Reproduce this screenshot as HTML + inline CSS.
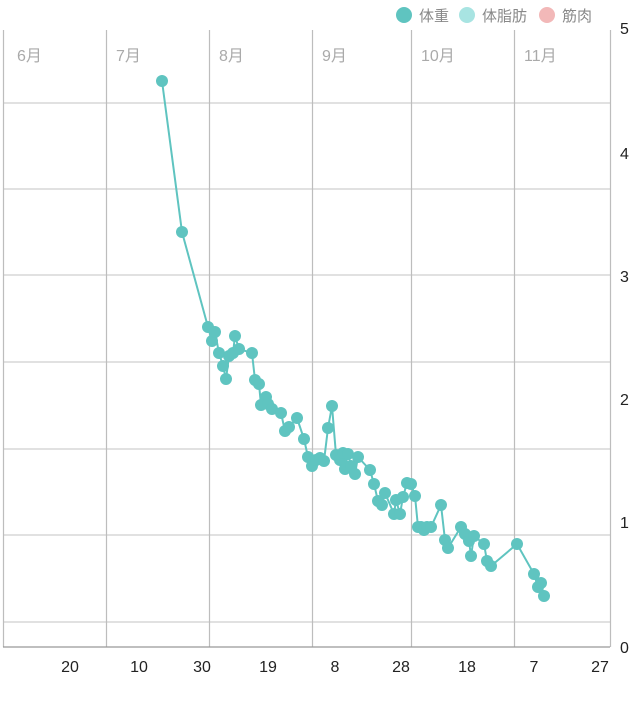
<!DOCTYPE html>
<html><head><meta charset="utf-8"><style>
body{margin:0;background:#fff;}
svg{display:block;font-family:"Liberation Sans","Noto Sans CJK JP",sans-serif;}
circle.p{r:6px;}
</style></head><body>
<svg width="640" height="708" viewBox="0 0 640 708">
<g stroke="#cfcfcf" stroke-width="1.2">
<line x1="3" y1="103" x2="610" y2="103"/><line x1="3" y1="189" x2="610" y2="189"/>
<line x1="3" y1="275" x2="610" y2="275"/><line x1="3" y1="362" x2="610" y2="362"/>
<line x1="3" y1="449" x2="610" y2="449"/><line x1="3" y1="535" x2="610" y2="535"/>
<line x1="3" y1="622" x2="610" y2="622"/>
</g>
<g stroke="#bdbdbd" stroke-width="1.2">
<line x1="3.5" y1="30" x2="3.5" y2="647"/><line x1="106.5" y1="30" x2="106.5" y2="647"/>
<line x1="209.5" y1="30" x2="209.5" y2="647"/><line x1="312.5" y1="30" x2="312.5" y2="647"/>
<line x1="411.5" y1="30" x2="411.5" y2="647"/><line x1="514.5" y1="30" x2="514.5" y2="647"/>
<line x1="610.5" y1="30" x2="610.5" y2="647"/>
</g>
<line x1="3" y1="647" x2="610" y2="647" stroke="#999" stroke-width="1.2"/>
<g fill="#aaa" font-size="16">
<text x="17" y="61">6月</text><text x="116" y="61">7月</text><text x="219" y="61">8月</text>
<text x="322" y="61">9月</text><text x="421" y="61">10月</text><text x="524" y="61">11月</text>
</g>
<g fill="#222" font-size="16">
<text x="620" y="34">5</text><text x="620" y="159">4</text><text x="620" y="282">3</text>
<text x="620" y="405">2</text><text x="620" y="528">1</text><text x="620" y="653">0</text>
</g>
<g fill="#222" font-size="16" text-anchor="middle">
<text x="70" y="672">20</text><text x="139" y="672">10</text><text x="202" y="672">30</text>
<text x="268" y="672">19</text><text x="335" y="672">8</text><text x="401" y="672">28</text>
<text x="467" y="672">18</text><text x="534" y="672">7</text><text x="600" y="672">27</text>
</g>
<g font-size="15" fill="#888">
<circle cx="404" cy="15" r="8" fill="#5fc4c0"/><text x="419" y="21">体重</text>
<circle cx="467" cy="15" r="8" fill="#a8e4e2"/><text x="482" y="21">体脂肪</text>
<circle cx="547" cy="15" r="8" fill="#f2b8b8"/><text x="562" y="21">筋肉</text>
</g>
<polyline fill="none" stroke="#5fc4c0" stroke-width="2" points="162,81 182,232 208,327 212,341 215,332 219,353 223,366 226,379 229,356 233,353 235,336 239,349 252,353 255,380 259,384 261,405 266,397 268,404 272,409 281,413 285,431 289,427 297,418 304,439 308,457 312,466 316,460 320,458 324,461 328,428 332,406 336,455 340,460 343,453 345,469 348,454 351,466 355,474 358,457 370,470 374,484 378,501 382,505 385,493 394,514 396,500 400,514 403,497 407,483 411,484 415,496 418,527 421,527 424,530 427,527 431,527 441,505 445,540 448,548 461,527 465,534 469,541 471,556 474,536 484,544 487,561 491,566 517,544 534,574 538,587 541,583 544,596"/>
<g fill="#5fc4c0">
<circle cx="162" cy="81" r="6"/><circle cx="182" cy="232" r="6"/><circle cx="208" cy="327" r="6"/><circle cx="212" cy="341" r="6"/><circle cx="215" cy="332" r="6"/><circle cx="219" cy="353" r="6"/><circle cx="223" cy="366" r="6"/><circle cx="226" cy="379" r="6"/><circle cx="229" cy="356" r="6"/><circle cx="233" cy="353" r="6"/><circle cx="235" cy="336" r="6"/><circle cx="239" cy="349" r="6"/><circle cx="252" cy="353" r="6"/><circle cx="255" cy="380" r="6"/><circle cx="259" cy="384" r="6"/><circle cx="261" cy="405" r="6"/><circle cx="266" cy="397" r="6"/><circle cx="268" cy="404" r="6"/><circle cx="272" cy="409" r="6"/><circle cx="281" cy="413" r="6"/><circle cx="285" cy="431" r="6"/><circle cx="289" cy="427" r="6"/><circle cx="297" cy="418" r="6"/><circle cx="304" cy="439" r="6"/><circle cx="308" cy="457" r="6"/><circle cx="312" cy="466" r="6"/><circle cx="316" cy="460" r="6"/><circle cx="320" cy="458" r="6"/><circle cx="324" cy="461" r="6"/><circle cx="328" cy="428" r="6"/><circle cx="332" cy="406" r="6"/><circle cx="336" cy="455" r="6"/><circle cx="340" cy="460" r="6"/><circle cx="343" cy="453" r="6"/><circle cx="345" cy="469" r="6"/><circle cx="348" cy="454" r="6"/><circle cx="351" cy="466" r="6"/><circle cx="355" cy="474" r="6"/><circle cx="358" cy="457" r="6"/><circle cx="370" cy="470" r="6"/><circle cx="374" cy="484" r="6"/><circle cx="378" cy="501" r="6"/><circle cx="382" cy="505" r="6"/><circle cx="385" cy="493" r="6"/><circle cx="394" cy="514" r="6"/><circle cx="396" cy="500" r="6"/><circle cx="400" cy="514" r="6"/><circle cx="403" cy="497" r="6"/><circle cx="407" cy="483" r="6"/><circle cx="411" cy="484" r="6"/><circle cx="415" cy="496" r="6"/><circle cx="418" cy="527" r="6"/><circle cx="421" cy="527" r="6"/><circle cx="424" cy="530" r="6"/><circle cx="427" cy="527" r="6"/><circle cx="431" cy="527" r="6"/><circle cx="441" cy="505" r="6"/><circle cx="445" cy="540" r="6"/><circle cx="448" cy="548" r="6"/><circle cx="461" cy="527" r="6"/><circle cx="465" cy="534" r="6"/><circle cx="469" cy="541" r="6"/><circle cx="471" cy="556" r="6"/><circle cx="474" cy="536" r="6"/><circle cx="484" cy="544" r="6"/><circle cx="487" cy="561" r="6"/><circle cx="491" cy="566" r="6"/><circle cx="517" cy="544" r="6"/><circle cx="534" cy="574" r="6"/><circle cx="538" cy="587" r="6"/><circle cx="541" cy="583" r="6"/><circle cx="544" cy="596" r="6"/>
</g>
</svg>
</body></html>
